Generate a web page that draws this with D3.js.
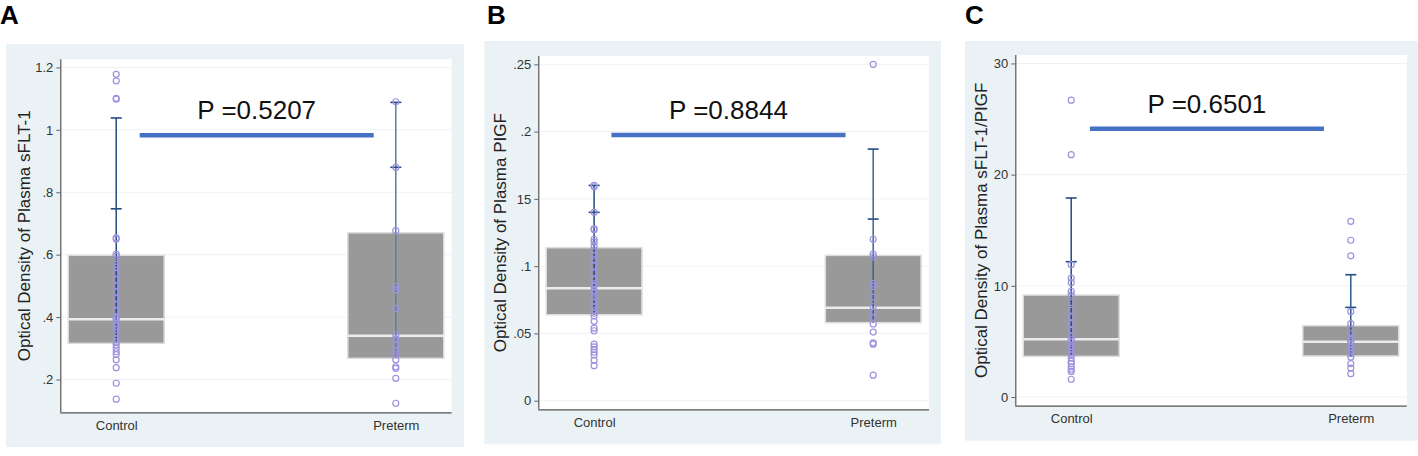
<!DOCTYPE html>
<html>
<head>
<meta charset="utf-8">
<script src="https://cdn.jsdelivr.net/npm/d3@7"></script>
<style>
  body { margin: 0; background: #fff; }
  svg { display: block; }
  text { font-family: "Liberation Sans", Arial, sans-serif; }
  .tick-label { font-family: "Liberation Sans Narrow", "Liberation Sans", Arial, sans-serif; }
</style>
</head>
<body>
<div id="chart"></div>
<script>
// ---- data ----
const groups = ["Control", "Preterm"];

// A: sFLT-1
const sfltControl = [1.178, 1.157, 1.101, 1.098, 0.654, 0.650, 0.602, 0.595, 0.569, 0.56, 0.54, 0.52,
    0.50, 0.48, 0.46, 0.44, 0.42, 0.40, 0.395, 0.39, 0.38, 0.37, 0.36, 0.35, 0.33, 0.32, 0.311,
    0.30, 0.289, 0.28, 0.263, 0.238, 0.188, 0.137];
const sfltPreterm = [1.090, 0.880, 0.677, 0.498, 0.487, 0.428, 0.343, 0.33, 0.31, 0.29, 0.28,
    0.263, 0.241, 0.236, 0.204, 0.124];
const sfltQ1 = [0.316, 0.268];
const sfltMedian = [0.393, 0.340];
const sfltQ3 = [0.598, 0.670];
const sfltCapHi = [1.038, 1.088];
const sfltCapLo = [0.747, 0.880];
const sfltTicks = [0.2, 0.4, 0.6, 0.8, 1, 1.2];
const sfltTickLabels = [".2", ".4", ".6", ".8", "1", "1.2"];
const sfltP = {label: "P =0.5207", value: 0.983};

// B: PlGF
const plgfControl = [0.160, 0.159, 0.140, 0.128, 0.127, 0.120, 0.118, 0.115, 0.112, 0.108, 0.105,
    0.100, 0.095, 0.090, 0.087, 0.085, 0.082, 0.080, 0.077, 0.074, 0.070, 0.067, 0.065, 0.063,
    0.059, 0.054, 0.052, 0.042, 0.040, 0.038, 0.036, 0.034, 0.030, 0.026];
const plgfPreterm = [0.250, 0.120, 0.109, 0.107, 0.087, 0.085, 0.077, 0.070, 0.066, 0.062, 0.057,
    0.051, 0.043, 0.042, 0.019];
const plgfQ1 = [0.0639, 0.058];
const plgfMedian = [0.0836, 0.069];
const plgfQ3 = [0.1137, 0.108];
const plgfCapHi = [0.160, 0.187];
const plgfCapLo = [0.140, 0.135];
const plgfTicks = [0, 0.05, 0.1, 0.15, 0.2, 0.25];
const plgfTickLabels = ["0", ".05", ".1", "15", ".2", ".25"];
const plgfP = {label: "P =0.8844", value: 0.1975};

// C: sFLT-1/PlGF ratio
const ratioControl = [26.7, 21.8, 11.9, 10.7, 10.3, 9.5, 9.2, 8.5, 7.8, 7.2, 6.6, 6.0, 5.5, 5.2,
    5.0, 4.6, 4.3, 4.0, 3.8, 3.5, 3.2, 3.0, 2.7, 2.5, 2.3, 1.6];
const ratioPreterm = [15.8, 14.1, 12.7, 7.7, 6.6, 5.7, 5.3, 5.0, 4.8, 4.5, 4.2, 3.9, 3.6, 3.0, 2.6, 2.1];
const ratioQ1 = [3.66, 3.69];
const ratioMedian = [5.19, 4.97];
const ratioQ3 = [9.17, 6.41];
const ratioCapHi = [17.9, 11.0];
const ratioCapLo = [12.17, 8.06];
const ratioTicks = [0, 10, 20, 30];
const ratioTickLabels = ["0", "10", "20", "30"];
const ratioP = {label: "P =0.6501", value: 24.13};

// ---- layout ----
const W = 1418, H = 456;
const svg = d3.select("#chart").append("svg")
    .attr("width", W)
    .attr("height", H);

const panels = [
    {
        letter: "A", letterX: 0,
        bg: [6, 44, 464, 447], plot: [60.3, 59.3, 451.7, 412.3],
        domain: [0.095, 1.226], title: "Optical Density of Plasma sFLT-1", titleX: 30,
        points: [sfltControl, sfltPreterm], q1: sfltQ1, med: sfltMedian, q3: sfltQ3,
        capHi: sfltCapHi, capLo: sfltCapLo, ticks: sfltTicks, tickLabels: sfltTickLabels,
        p: sfltP, barSpan: [0.084, 0.921], lineColor: ["#224c80", "#5a7fa8"]
    },
    {
        letter: "B", letterX: 487,
        bg: [484.3, 41, 941, 444.3], plot: [538.3, 56, 929, 409.3],
        domain: [-0.0064, 0.2562], title: "Optical Density of Plasma PIGF", titleX: 506,
        points: [plgfControl, plgfPreterm], q1: plgfQ1, med: plgfMedian, q3: plgfQ3,
        capHi: plgfCapHi, capLo: plgfCapLo, ticks: plgfTicks, tickLabels: plgfTickLabels,
        p: plgfP, barSpan: [0.062, 0.901], lineColor: ["#224c80", "#3a6496"]
    },
    {
        letter: "C", letterX: 965,
        bg: [965, 41, 1418, 440.7], plot: [1015.3, 55, 1406.7, 405.7],
        domain: [-0.78, 30.76], title: "Optical Density of Plasma sFLT-1/PIGF", titleX: 987,
        points: [ratioControl, ratioPreterm], q1: ratioQ1, med: ratioMedian, q3: ratioQ3,
        capHi: ratioCapHi, capLo: ratioCapLo, ticks: ratioTicks, tickLabels: ratioTickLabels,
        p: ratioP, barSpan: [0.067, 0.904], lineColor: ["#224c80", "#2d5a8c"]
    }
];

panels.forEach(p => drawPanel(p));

function drawPanel(p) {
    const [bx0, by0, bx1, by1] = p.bg;
    const [px0, py0, px1, py1] = p.plot;
    const g = svg.append("g");

    // panel letter
    g.append("text")
        .attr("x", p.letterX)
        .attr("y", 24)
        .attr("font-size", 26)
        .attr("font-weight", "bold")
        .attr("fill", "#000")
        .text(p.letter);

    // outer light background and white plot region
    g.append("rect")
        .attr("x", bx0).attr("y", by0)
        .attr("width", bx1 - bx0).attr("height", by1 - by0)
        .attr("fill", "#eaf2f5");
    g.append("rect")
        .attr("x", px0).attr("y", py0)
        .attr("width", px1 - px0).attr("height", py1 - py0)
        .attr("fill", "#fff");

    const x = d3.scalePoint()
        .domain(groups)
        .range([px0, px1])
        .padding(0.2);
    const y = d3.scaleLinear()
        .domain(p.domain)
        .range([py1, py0]);

    const boxW = x.step() * 0.343;

    // gridlines
    g.append("g")
        .selectAll("line")
        .data(p.ticks)
        .join("line")
        .attr("x1", px0).attr("x2", px1)
        .attr("y1", d => y(d)).attr("y2", d => y(d))
        .attr("stroke", "#edf2f5")
        .attr("stroke-width", 1);

    // y axis
    const yAxis = g.append("g")
        .attr("transform", `translate(${px0},0)`)
        .call(d3.axisLeft(y)
            .tickValues(p.ticks)
            .tickFormat((d, i) => p.tickLabels[i])
            .tickSize(4)
            .tickPadding(3)
            .tickSizeOuter(0));
    yAxis.select(".domain").attr("stroke", "#555").attr("stroke-width", 1.2)
        .attr("d", `M0.5,${py0}V${py1}`);
    yAxis.selectAll(".tick line").attr("stroke", "#666");
    yAxis.selectAll(".tick text")
        .attr("class", "tick-label")
        .attr("font-size", 13)
        .attr("fill", "#333");

    // x axis
    const xAxis = g.append("g")
        .attr("transform", `translate(0,${py1})`)
        .call(d3.axisBottom(x).tickSize(0).tickPadding(8).tickSizeOuter(0));
    xAxis.select(".domain").attr("stroke", "#555").attr("stroke-width", 1.2)
        .attr("d", `M${px0},0.5H${px1}`);
    xAxis.selectAll(".tick text")
        .attr("class", "tick-label")
        .attr("font-size", 13)
        .attr("fill", "#333");

    // y title
    g.append("text")
        .attr("transform", `translate(${p.titleX},${(py0 + py1) / 2}) rotate(-90)`)
        .attr("text-anchor", "middle")
        .attr("font-size", 17)
        .attr("fill", "#222")
        .text(p.title);

    const idx = groups.map((d, i) => i);

    // boxes
    g.append("g")
        .selectAll("rect")
        .data(idx)
        .join("rect")
        .attr("x", i => x(groups[i]) - boxW / 2)
        .attr("y", i => y(p.q3[i]))
        .attr("width", boxW)
        .attr("height", i => y(p.q1[i]) - y(p.q3[i]))
        .attr("fill", "#999")
        .attr("stroke", "#dcdcdc")
        .attr("stroke-width", 1.5);

    // median lines
    g.append("g")
        .selectAll("line")
        .data(idx)
        .join("line")
        .attr("x1", i => x(groups[i]) - boxW / 2)
        .attr("x2", i => x(groups[i]) + boxW / 2)
        .attr("y1", i => y(p.med[i]))
        .attr("y2", i => y(p.med[i]))
        .attr("stroke", "#ececec")
        .attr("stroke-width", 2.5);

    // whisker line and caps
    const wg = g.append("g");
    wg.selectAll("line.stem")
        .data(idx)
        .join("line")
        .attr("class", "stem")
        .attr("x1", i => x(groups[i])).attr("x2", i => x(groups[i]))
        .attr("y1", i => y(p.q1[i])).attr("y2", i => y(p.capHi[i]))
        .attr("stroke", i => p.lineColor[i])
        .attr("stroke-width", 1.5);
    const caps = idx.flatMap(i => [{i, v: p.capHi[i]}, {i, v: p.capLo[i]}]);
    wg.selectAll("line.cap")
        .data(caps)
        .join("line")
        .attr("class", "cap")
        .attr("x1", d => x(groups[d.i]) - 5.5).attr("x2", d => x(groups[d.i]) + 5.5)
        .attr("y1", d => y(d.v)).attr("y2", d => y(d.v))
        .attr("stroke", "#224c80")
        .attr("stroke-width", 1.6);

    // data points
    const pts = idx.flatMap(i => p.points[i].map(v => ({i, v})));
    g.append("g")
        .selectAll("circle")
        .data(pts)
        .join("circle")
        .attr("cx", d => x(groups[d.i]))
        .attr("cy", d => y(d.v))
        .attr("r", 3)
        .attr("fill", "none")
        .attr("stroke", "#9d92de")
        .attr("stroke-width", 1.2);

    // p-value annotation
    const xc = x(groups[0]), xp = x(groups[1]);
    const barX0 = xc + (xp - xc) * p.barSpan[0];
    const barX1 = xc + (xp - xc) * p.barSpan[1];
    g.append("line")
        .attr("x1", barX0).attr("x2", barX1)
        .attr("y1", y(p.p.value)).attr("y2", y(p.p.value))
        .attr("stroke", "#4472c4")
        .attr("stroke-width", 4.5);
    g.append("text")
        .attr("x", (barX0 + barX1) / 2)
        .attr("y", y(p.p.value) - 16)
        .attr("text-anchor", "middle")
        .attr("font-size", 26)
        .attr("fill", "#111")
        .text(p.p.label);
}
</script>
</body>
</html>
